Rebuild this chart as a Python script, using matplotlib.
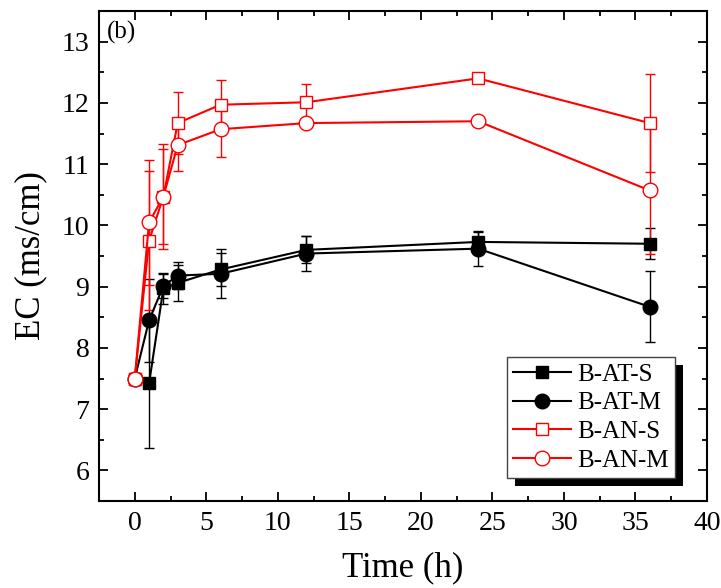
import matplotlib

matplotlib.use("Agg")
import matplotlib.pyplot as plt
from matplotlib.patches import Rectangle
from matplotlib.ticker import MultipleLocator


TIME = [0, 1, 2, 3, 6, 12, 24, 36]

AT_S = [7.5, 7.42, 8.97, 9.06, 9.28, 9.60, 9.73, 9.70]
AT_S_ERR = [0, 1.05, 0.25, 0.30, 0.27, 0.22, 0.17, 0.25]
AT_M = [7.5, 8.45, 9.01, 9.18, 9.21, 9.54, 9.62, 8.67]
AT_M_ERR = [0, 0.68, 0.20, 0.22, 0.40, 0.29, 0.29, 0.58]
AN_S = [7.5, 9.75, 10.47, 11.67, 11.97, 12.01, 12.40, 11.67]
AN_S_ERR = [0, 1.13, 0.86, 0.50, 0.40, 0.30, 0, 0.80]
AN_M = [7.5, 10.05, 10.47, 11.31, 11.57, 11.67, 11.70, 10.57]
AN_M_ERR = [0, 1.02, 0.78, 0.43, 0.46, 0.07, 0.06, 1.03]

SERIES = [
    ("B-AT-S", AT_S, AT_S_ERR, "black", "s", "black", 9),
    ("B-AT-M", AT_M, AT_M_ERR, "black", "o", "black", 10.5),
    ("B-AN-S", AN_S, AN_S_ERR, "red", "s", "white", 9),
    ("B-AN-M", AN_M, AN_M_ERR, "red", "o", "white", 10.5),
]

plt.rcParams["font.family"] = ["Liberation Serif", "DejaVu Serif"]


def main():
    fig = plt.figure(figsize=(7.21, 5.88), dpi=100)
    ax = fig.add_axes([99 / 721, 87 / 588, 608 / 721, 490 / 588])

    handles, labels = [], []
    for label, ys, err, color, marker, face, ms in SERIES:
        cont = ax.errorbar(TIME, ys, yerr=err, color=color, marker=marker,
                           markerfacecolor=face, markeredgecolor=color,
                           markersize=ms, markeredgewidth=1.0, linewidth=1.5,
                           elinewidth=1.0, capsize=3.6, capthick=1.2)
        handles.append(cont[0])
        labels.append(label)

    ax.set_xlim(-2.5, 40)
    ax.set_ylim(5.5, 13.5)
    ax.xaxis.set_major_locator(MultipleLocator(5))
    ax.xaxis.set_minor_locator(MultipleLocator(2.5))
    ax.yaxis.set_major_locator(MultipleLocator(1))
    ax.yaxis.set_minor_locator(MultipleLocator(0.5))
    ax.tick_params(which="both", direction="in", top=True, right=True, width=1.3)
    ax.tick_params(which="major", length=6.5, labelsize=20, pad=7)
    ax.tick_params(which="minor", length=3.6)
    for spine in ax.spines.values():
        spine.set_linewidth(1.5)

    ax.set_xlabel("Time (h)", fontsize=25, labelpad=11)
    ax.set_ylabel("EC (ms/cm)", fontsize=25, labelpad=10)
    ax.text(0.013, 0.957, "(b)", transform=ax.transAxes, fontsize=18,
            ha="left", va="center")

    leg = ax.legend(handles, labels, loc="upper left",
                    bbox_to_anchor=(0.671, 0.294), borderaxespad=0,
                    fancybox=False, framealpha=1, edgecolor="#444444",
                    fontsize=18, handlelength=2.3, handletextpad=0.25,
                    labelspacing=0.25, borderpad=0.25)
    leg.get_frame().set_linewidth(1.0)
    leg.set_zorder(6)

    # origin-style solid black shadow behind the legend box
    fig.canvas.draw()
    bb = leg.get_window_extent()
    ax.add_artist(Rectangle((bb.x0 + 8, bb.y0 - 8), bb.width, bb.height,
                            transform=None, facecolor="black", edgecolor="none",
                            clip_on=False, zorder=5.5))

    fig.savefig("out.png", dpi=100)


if __name__ == "__main__":
    main()
